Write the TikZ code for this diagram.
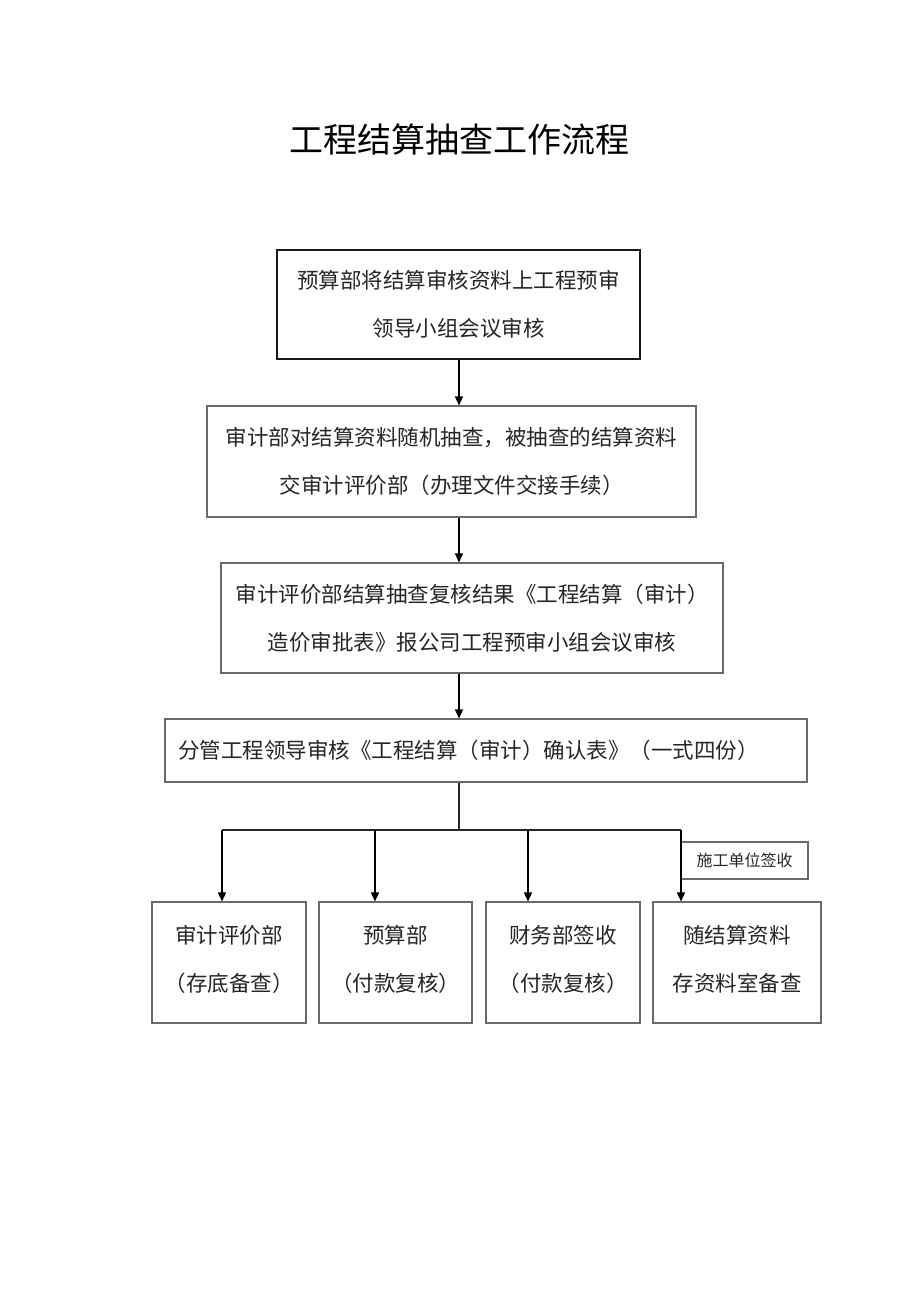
\documentclass[tikz,border=0pt]{standalone}
\usepackage{fontspec}
\setmainfont{Noto Sans CJK SC}
\usetikzlibrary{arrows.meta}
\definecolor{boxgray}{HTML}{6A6A6A}
\definecolor{txt}{HTML}{262626}
\tikzset{
  box/.style={draw=boxgray, line width=1.1pt, align=center, inner sep=0pt, text=txt,
    font=\fontsize{21.5pt}{48pt}\selectfont},
  arr/.style={draw=black, line width=1.3pt, -{Triangle[length=9pt,width=8pt]}},
  ln/.style={draw=black!85, line width=1.3pt},
  titlefont/.style={font=\fontsize{34pt}{40pt}\selectfont, text=black}
}
\begin{document}
\begin{tikzpicture}[x=1pt,y=-1pt]
\fill[white] (0,0) rectangle (920,1301);
\useasboundingbox (0,0) rectangle (920,1301);
\node[titlefont] (title) at (459,140) {工程结算抽查工作流程};
\node[box, draw=black!90, line width=1.5pt, minimum width=363pt, minimum height=109pt] (b1) at (458.5,304.5)
  {预算部将结算审核资料上工程预审\\领导小组会议审核};
\node[box, minimum width=489pt, minimum height=111pt] (b2) at (451.5,461.5)
  {审计部对结算资料随机抽查，被抽查的结算资料\\交审计评价部（办理文件交接手续）};
\node[box, minimum width=502pt, minimum height=110pt] (b3) at (472,618)
  {审计评价部结算抽查复核结果《工程结算（审计）\\造价审批表》报公司工程预审小组会议审核};
\node[box, minimum width=642pt, minimum height=63pt, text width=616pt, align=left] (b4) at (486,750.5)
  {分管工程领导审核《工程结算（审计）确认表》（一式四份）};
\node[box, minimum width=154pt, minimum height=121pt, text depth=8pt] (c1) at (229,962.5) {审计评价部\\（存底备查）};
\node[box, minimum width=153pt, minimum height=121pt, text depth=8pt] (c2) at (395.5,962.5) {预算部\\（付款复核）};
\node[box, minimum width=154pt, minimum height=121pt, text depth=8pt] (c3) at (563,962.5) {财务部签收\\（付款复核）};
\node[box, minimum width=168pt, minimum height=121pt, text depth=8pt] (c4) at (737,962.5) {随结算资料\\存资料室备查};
\node[box, minimum width=127pt, minimum height=37pt, font=\fontsize{16pt}{18pt}\selectfont] (lab) at (744.5,860.5) {施工单位签收};
\coordinate (j) at (459,830);
\coordinate (h1) at (222,830);
\coordinate (h2) at (375,830);
\coordinate (h3) at (528,830);
\coordinate (h4) at (681,830);
\draw[arr] (b1.south -| j) -- (b2.north -| j);
\draw[arr] (b2.south -| j) -- (b3.north -| j);
\draw[arr] (b3.south -| j) -- (b4.north -| j);
\draw[ln] (b4.south -| j) -- (j);
\draw[ln] (h1) -- (h4);
\draw[arr] (h1) -- (h1 |- c1.north);
\draw[arr] (h2) -- (h2 |- c2.north);
\draw[arr] (h3) -- (h3 |- c3.north);
\draw[arr] (h4) -- (h4 |- c4.north);
\end{tikzpicture}
\end{document}
